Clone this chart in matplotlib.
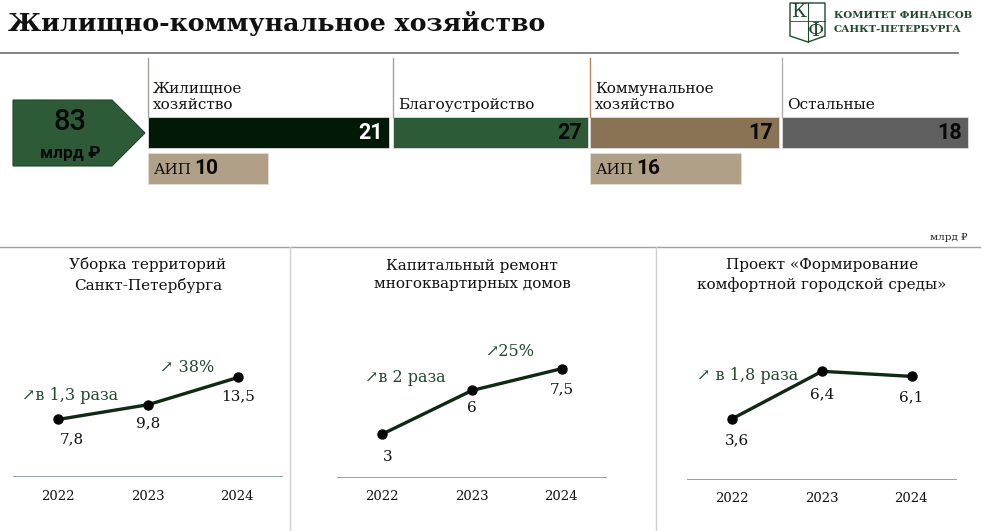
import numpy as np
import matplotlib.pyplot as plt
from matplotlib.patches import Polygon, Rectangle

# ---- data ----
total = 83
seg_names = ['Жилищное\nхозяйство', 'Благоустройство', 'Коммунальное\nхозяйство', 'Остальные']
seg_values = [21, 27, 17, 18]
aip_values = {0: 10, 2: 16}

years = ['2022', '2023', '2024']
panel_titles = ['Уборка территорий\nСанкт-Петербурга',
                'Капитальный ремонт\nмногоквартирных домов',
                'Проект «Формирование\nкомфортной городской среды»']
cleaning = [7.8, 9.8, 13.5]
repair = [3, 6, 7.5]
urban = [3.6, 6.4, 6.1]
labels_cleaning = ['7,8', '9,8', '13,5']
labels_repair = ['3', '6', '7,5']
labels_urban = ['3,6', '6,4', '6,1']

# ---- layout / style ----
W, H = 990, 531
SERIF = ['DejaVu Serif', 'DejaVu Sans']
SANS = ['Roboto', 'DejaVu Sans']
dark = '#021a05'
green = '#2e5b37'
brown = '#8a7354'
grey = '#5f5f5f'
beige = '#b0a088'
txtgreen = '#1f4a2c'

fig = plt.figure(figsize=(W / 100, H / 100), dpi=100)
ax = fig.add_axes([0, 0, 1, 1])
ax.set_xlim(0, W)
ax.set_ylim(H, 0)
ax.axis('off')

# title + logo
ax.text(8, 23, 'Жилищно-коммунальное хозяйство', family=SERIF, fontweight='bold',
        fontsize=18.2, va='center', ha='left', color='#111111')
ax.plot([0, 958], [53, 53], color='#6e6e6e', lw=1.2)
shield = Polygon([[790, 3], [825, 3], [825, 36], [808, 42], [790, 36]], closed=True,
                 fill=False, edgecolor=txtgreen, lw=1)
ax.add_patch(shield)
ax.plot([808, 808], [3, 42], color=txtgreen, lw=0.8)
ax.plot([790, 825], [21, 21], color=txtgreen, lw=0.6)
ax.text(799, 12, 'К', family=SERIF, fontsize=14, ha='center', va='center', color=txtgreen)
ax.text(816, 31, 'Ф', family=SERIF, fontsize=14, ha='center', va='center', color=txtgreen)
ax.text(834, 15, 'КОМИТЕТ ФИНАНСОВ', family=SERIF, fontweight='bold', fontsize=7.4,
        va='center', color=txtgreen)
ax.text(834, 30, 'САНКТ-ПЕТЕРБУРГА', family=SERIF, fontweight='bold', fontsize=7.4,
        va='center', color=txtgreen)

# total arrow
arrow = Polygon([[13, 100], [112, 100], [145, 133], [112, 166], [13, 166]], closed=True,
                facecolor=green, edgecolor='#24452b', lw=0.8)
ax.add_patch(arrow)
ax.text(70, 122, str(total), family=SANS, fontweight='medium', fontsize=21, ha='center',
        va='center', color='#0a0a0a')
ax.text(70, 153, 'млрд ₽', family=SANS, fontweight='bold', fontsize=12.5, ha='center',
        va='center', color='#0a0a0a')

# segment bars
lefts = [148, 393, 590, 782]
widths = [241, 195, 189, 186]
colors = [dark, green, brown, grey]
sep_colors = ['#9aa59c', '#9aa59c', '#b08a5a', '#b0b0b0']
ax.barh([132.5] * 4, widths, left=lefts, height=31, color=colors,
        edgecolor='#dddddd', lw=0.6)
for i, name in enumerate(seg_names):
    x0 = lefts[i]
    ax.plot([x0, x0], [58, 117], color=sep_colors[i], lw=1)
    ax.text(x0 + 5, 112, name, family=SERIF, fontsize=11, ha='left', va='bottom',
            linespacing=1.15, color='#111111')
    ax.text(x0 + widths[i] - 6, 133, str(seg_values[i]), family=SANS, fontweight='bold',
            fontsize=15.5, ha='right', va='center', color='white' if i == 0 else '#0a0a0a')

aip_widths = {0: 120, 2: 151}
for i, v in aip_values.items():
    ax.add_patch(Rectangle((lefts[i], 153), aip_widths[i], 31, facecolor=beige,
                           edgecolor='#e0dcd4', lw=0.6))
    ax.text(lefts[i] + 6, 170, 'АИП', family=SERIF, fontsize=11, ha='left', va='center',
            color='#111111')
    ax.text(lefts[i] + 46, 169, str(v), family=SANS, fontweight='bold', fontsize=15,
            ha='left', va='center', color='#0a0a0a')

ax.text(968, 237, 'млрд ₽', family=SERIF, fontsize=7.5, ha='right', va='center', color='#222222')
ax.plot([0, 980], [247, 247], color='#a0a0a0', lw=1)
ax.plot([290, 290], [247, 531], color='#d0d0d0', lw=1)
ax.plot([656, 656], [247, 531], color='#d0d0d0', lw=1)

# ---- line panels ----
panels = [
    (13, cleaning, labels_cleaning, 24.0, ['↗в 1,3 раза', '↗ 38%']),
    (337, repair, labels_repair, 12.2, ['↗в 2 раза', '↗25%']),
    (687, urban, labels_urban, 10.6, ['↗ в 1,8 раза', None]),
]
ann_pos = [[(22, 395), (160, 368)], [(365, 378), (486, 352)], [(697, 375), None]]
label_off = [[(14, 20), (0, 19), (0, 19)],
             [(6, 23), (0, 18), (0, 21)],
             [(5, 21), (0, 23), (-1, 21)]]
base_px = [477, 478, 480]

for k, (x0, vals, labs, ytop, anns) in enumerate(panels):
    cx = x0 + 135
    ax.text(cx, 275, panel_titles[k], family=SERIF, fontsize=11, ha='center', va='center',
            linespacing=1.45, color='#111111')
    b = base_px[k]
    pax = fig.add_axes([x0 / W, 1 - b / H, 270 / W, (b - 300) / H])
    pax.set_xlim(-0.5, 2.5)
    pax.set_ylim(0, ytop)
    pax.axis('off')
    xs = np.arange(len(vals))
    pax.plot(xs, vals, color='#0f2a12', lw=2.4, marker='o', markersize=6.5,
             markerfacecolor='#050505', markeredgecolor='#050505', solid_capstyle='round')
    pax.axhline(0, color='#7a9592', lw=1.2)
    for j, v in enumerate(vals):
        dx, dy = label_off[k][j]
        pax.annotate(labs[j], (xs[j], v), xytext=(dx, -dy), textcoords='offset pixels',
                     ha='center', va='center', family=SERIF, fontsize=11, color='#111111')
        ax.text(x0 + 45 + 89.5 * j, b + 19, years[j], family=SERIF, fontsize=9.5,
                ha='center', va='center', color='#111111')
    for a, pos in zip(anns, ann_pos[k]):
        if a is None:
            continue
        ax.text(pos[0], pos[1], a, family=SERIF, fontsize=11.5, ha='left', va='center',
                color=txtgreen)

fig.savefig('out.png', dpi=100)
